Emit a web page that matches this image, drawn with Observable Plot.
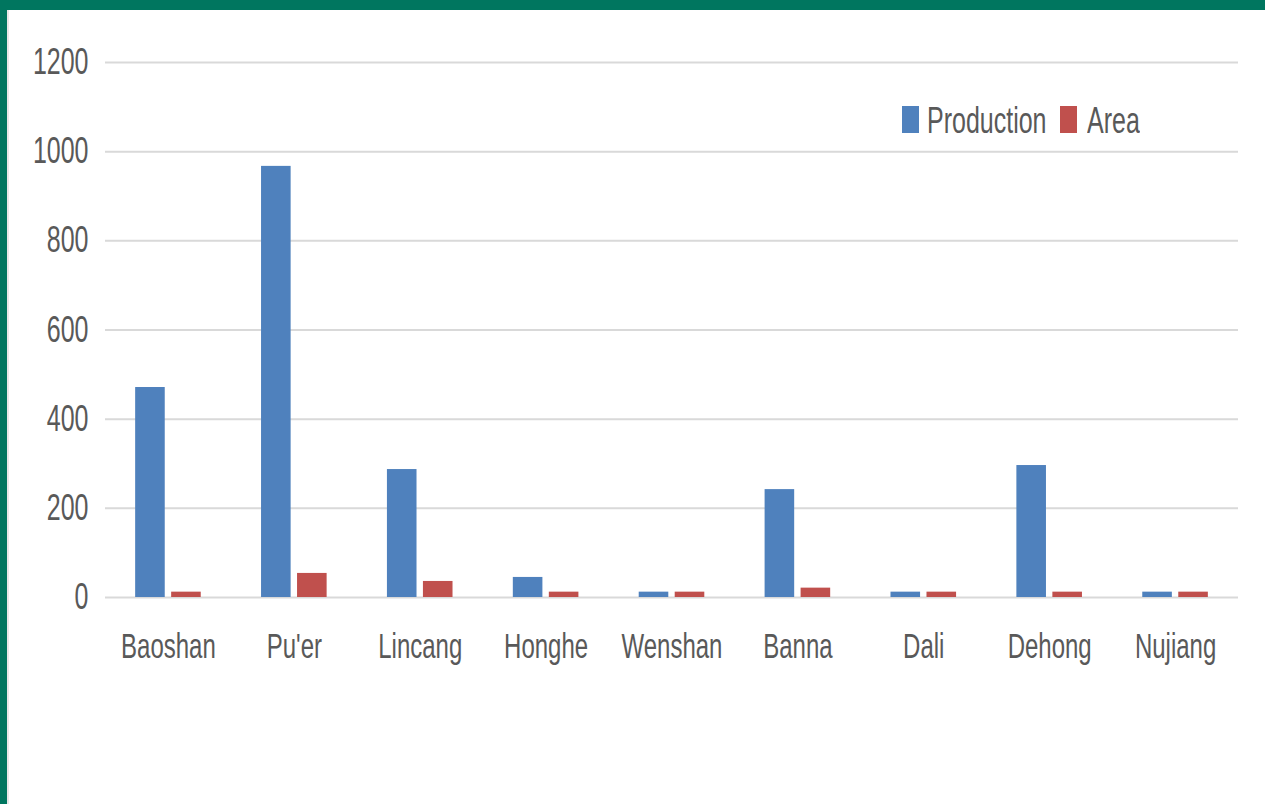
<!DOCTYPE html>
<html><head><meta charset="utf-8">
<script src="https://cdn.jsdelivr.net/npm/d3@7"></script>
<script src="https://cdn.jsdelivr.net/npm/@observablehq/plot@0.6"></script>
<style>
body{margin:0;background:#fff;overflow:hidden;}
#wrap{position:relative;width:1265px;height:804px;background:#fff;}
#chart{position:absolute;left:0;top:0;}
.bt{position:absolute;left:0;top:0;width:1265px;height:10px;background:#00765F;}
.bl{position:absolute;left:0;top:0;width:7px;height:804px;background:#00765F;}
.bl2{position:absolute;left:7px;top:10px;width:2px;height:794px;background:#e8e8e8;}
.sw{position:absolute;width:17px;height:27px;top:106px;}
.lt{position:absolute;top:106px;height:28px;line-height:28px;font-family:"Liberation Sans",Arial,sans-serif;font-size:25px;color:#595959;transform:scaleY(1.45);transform-origin:left center;white-space:nowrap;}
</style></head>
<body>
<div id="wrap">
  <div id="chart"></div>
  <div class="bt"></div><div class="bl"></div><div class="bl2"></div>
  <div class="sw" style="left:902px;background:#4F81BD"></div>
  <div class="lt" style="left:927px">Production</div>
  <div class="sw" style="left:1060px;background:#C0504D"></div>
  <div class="lt" style="left:1087px">Area</div>
</div>
<script>
const regions = ["Baoshan","Pu'er","Lincang","Honghe","Wenshan","Banna","Dali","Dehong","Nujiang"];
const production = [471, 967, 287, 45, 12, 242, 12, 296, 12];
const area = [12, 54, 36, 12, 12, 21, 12, 12, 12];
const yTicks = [0, 200, 400, 600, 800, 1000, 1200];

const rows = regions.map((r, i) => ({region: r, production: production[i], area: area[i]}));
const font = '"Liberation Sans", Arial, sans-serif';

const chart = Plot.plot({
  width: 1265,
  height: 804,
  marginLeft: 105,
  marginRight: 27,
  marginTop: 62,
  marginBottom: 207,
  style: {fontFamily: font, fontSize: "25px", color: "#595959", background: "transparent"},
  x: {domain: regions, paddingInner: 0.765, paddingOuter: 0.3825, round: false, label: null},
  y: {domain: [0, 1200], label: null},
  marks: [
    Plot.ruleY(yTicks, {stroke: "#d9d9d9", strokeWidth: 2}),
    Plot.barY(rows, {x: "region", y: "production", fill: "#4F81BD", dx: -18}),
    Plot.barY(rows, {x: "region", y: "area", fill: "#C0504D", dx: 18}),
    Plot.axisY({ticks: yTicks, tickFormat: d3.format("d"), tickSize: 0, tickPadding: 17, fill: "#595959", label: null}),
    Plot.axisX({tickSize: 0, tickPadding: 36, fill: "#595959", fontSize: 24, label: null})
  ]
});
document.getElementById("chart").appendChild(chart);
chart.querySelectorAll('g[aria-label="y-axis tick label"] text, g[aria-label="x-axis tick label"] text').forEach(t => {
  t.setAttribute("transform", (t.getAttribute("transform") || "") + " scale(1,1.45)");
});
</script>
</body></html>
